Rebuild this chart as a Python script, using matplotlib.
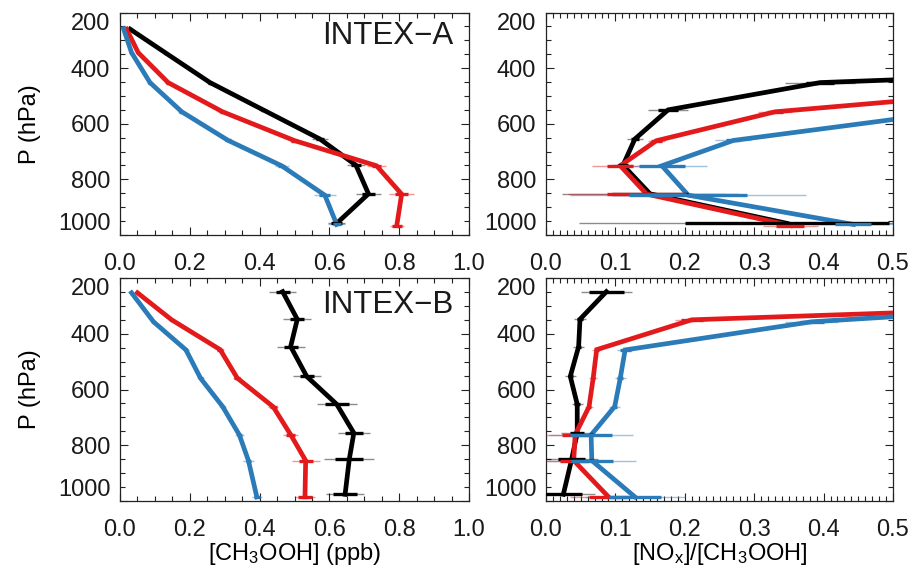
import matplotlib
matplotlib.use("Agg")
import matplotlib.pyplot as plt
from matplotlib.ticker import MultipleLocator, FixedLocator

plt.rcParams['font.family'] = ['Liberation Sans', 'DejaVu Sans']
plt.rcParams['mathtext.fontset'] = 'custom'
plt.rcParams['mathtext.rm'] = 'Liberation Sans'
plt.rcParams['mathtext.it'] = 'Liberation Sans'
plt.rcParams['mathtext.default'] = 'rm'
plt.rcParams['text.color'] = '#1a1a1a'

# ---------------- data ----------------
series_names = ["black", "red", "blue"]
colors = {"black": "#000000", "red": "#e31a1c", "blue": "#2b7bb9"}

# INTEX-A pressure levels (hPa)
pA_black = [260, 344, 452, 550, 655, 749, 852, 958]
pA_red = [260, 344, 452, 557, 661, 751, 853, 966]
pA_blue = [258, 344, 452, 557, 660, 751, 857, 962]

# INTEX-A CH3OOH (ppb)
chA_black = [0.029, 0.129, 0.258, 0.41, 0.573, 0.676, 0.712, 0.621]
chA_red = [0.019, 0.052, 0.138, 0.294, 0.501, 0.735, 0.807, 0.793]
chA_blue = [0.010, 0.033, 0.086, 0.177, 0.310, 0.463, 0.587, 0.621]
chA_err1_black = [0.003, 0.004, 0.005, 0.006, 0.012, 0.015, 0.018, 0.016]
chA_err2_black = [0.005, 0.007, 0.009, 0.012, 0.024, 0.025, 0.035, 0.025]
chA_err1_red = [0.003, 0.004, 0.006, 0.008, 0.010, 0.014, 0.018, 0.014]
chA_err2_red = [0.005, 0.006, 0.010, 0.012, 0.015, 0.027, 0.036, 0.020]
chA_err1_blue = [0.003, 0.004, 0.005, 0.007, 0.008, 0.011, 0.016, 0.012]
chA_err2_blue = [0.004, 0.006, 0.008, 0.010, 0.012, 0.020, 0.031, 0.024]

# INTEX-A NOx/CH3OOH
rA_black = [2.5, 1.57, 0.395, 0.176, 0.128, 0.111, 0.150, 0.347]
rA_red = [3.0, 1.8, 0.82, 0.330, 0.159, 0.107, 0.145, 0.352]
rA_blue = [4.0, 2.5, 1.2, 0.585, 0.270, 0.167, 0.205, 0.443]
rA_err1_black = [0.10, 0.05, 0.020, 0.014, 0.006, 0.007, 0.055, 0.147]
rA_err2_black = [0.20, 0.10, 0.050, 0.029, 0.012, 0.014, 0.127, 0.300]
rA_err1_red = [0.10, 0.05, 0.030, 0.012, 0.008, 0.019, 0.057, 0.020]
rA_err2_red = [0.20, 0.10, 0.060, 0.024, 0.012, 0.041, 0.113, 0.040]
rA_err1_blue = [0.10, 0.05, 0.030, 0.015, 0.010, 0.033, 0.085, 0.026]
rA_err2_blue = [0.20, 0.10, 0.060, 0.030, 0.026, 0.065, 0.170, 0.060]

# INTEX-B pressure levels (hPa)
pB_black = [249, 348, 446, 553, 653, 756, 850, 976]
pB_red = [253, 350, 457, 559, 662, 762, 855, 985]
pB_blue = [253, 357, 458, 560, 661, 763, 855, 985]

# INTEX-B CH3OOH (ppb)
chB_black = [0.466, 0.508, 0.489, 0.535, 0.621, 0.670, 0.657, 0.645]
chB_red = [0.050, 0.148, 0.287, 0.336, 0.439, 0.489, 0.532, 0.530]
chB_blue = [0.033, 0.096, 0.189, 0.231, 0.294, 0.342, 0.368, 0.392]
chB_err1_black = [0.020, 0.020, 0.020, 0.020, 0.035, 0.025, 0.040, 0.035]
chB_err2_black = [0.038, 0.040, 0.040, 0.040, 0.057, 0.045, 0.072, 0.055]
chB_err1_red = [0.004, 0.006, 0.008, 0.008, 0.010, 0.012, 0.020, 0.020]
chB_err2_red = [0.006, 0.008, 0.010, 0.012, 0.015, 0.022, 0.040, 0.028]
chB_err1_blue = [0.003, 0.004, 0.005, 0.006, 0.006, 0.007, 0.008, 0.008]
chB_err2_blue = [0.005, 0.006, 0.008, 0.009, 0.010, 0.012, 0.015, 0.014]

# INTEX-B NOx/CH3OOH
rB_black = [0.087, 0.049, 0.047, 0.035, 0.045, 0.045, 0.037, 0.025]
rB_red = [1.35, 0.21, 0.073, 0.068, 0.062, 0.042, 0.040, 0.090]
rB_blue = [1.06, 0.383, 0.114, 0.107, 0.099, 0.065, 0.066, 0.128]
rB_err1_black = [0.025, 0.004, 0.004, 0.004, 0.004, 0.010, 0.019, 0.027]
rB_err2_black = [0.037, 0.008, 0.008, 0.008, 0.008, 0.023, 0.038, 0.045]
rB_err1_red = [0.10, 0.016, 0.003, 0.003, 0.003, 0.019, 0.020, 0.028]
rB_err2_red = [0.20, 0.024, 0.006, 0.006, 0.006, 0.043, 0.040, 0.056]
rB_err1_blue = [0.10, 0.017, 0.008, 0.004, 0.004, 0.030, 0.030, 0.037]
rB_err2_blue = [0.20, 0.038, 0.012, 0.008, 0.008, 0.061, 0.064, 0.072]

campaign_labels = ["INTEX\u2212A", "INTEX\u2212B"]
xlabel_left = r"[CH$_3$OOH] (ppb)"
xlabel_right = r"[NO$_\mathrm{x}$]/[CH$_3$OOH]"
ylabel = "P (hPa)"
yticks = [200, 400, 600, 800, 1000]
xticks_left = [0.0, 0.2, 0.4, 0.6, 0.8, 1.0]
xticks_right = [0.0, 0.1, 0.2, 0.3, 0.4, 0.5]

# --------------- figure ---------------
fig = plt.figure(figsize=(9.14, 5.71), dpi=100)
W, H = 914.0, 571.0

def make_ax(x0, x1, y0, y1):
    return fig.add_axes([x0 / W, 1 - y1 / H, (x1 - x0) / W, (y1 - y0) / H])

axA_l = make_ax(120, 469, 12.5, 235)
axA_r = make_ax(546, 893, 12.5, 235)
axB_l = make_ax(120, 469, 278, 501)
axB_r = make_ax(546, 893, 278, 501)

FS = 17

def draw(ax, data):
    for name in series_names:
        x, p, e1, e2 = data[name]
        c = colors[name]
        ax.plot(x, p, color=c, lw=3.4, solid_joinstyle='miter', zorder=3)
    for name in series_names:
        x, p, e1, e2 = data[name]
        c = colors[name]
        ax.hlines(p, [a - b for a, b in zip(x, e2)], [a + b for a, b in zip(x, e2)],
                  color=c, lw=1.0, alpha=0.45, zorder=4)
        ax.hlines(p, [a - b for a, b in zip(x, e1)], [a + b for a, b in zip(x, e1)],
                  color=c, lw=2.4, zorder=5)

def style(ax, xmax, xticks, major, minor):
    ax.set_ylim(1000, 200)
    ax.set_xlim(0, xmax)
    ax.xaxis.set_major_locator(FixedLocator(xticks))
    ax.xaxis.set_minor_locator(MultipleLocator(minor))
    ax.yaxis.set_major_locator(FixedLocator(yticks))
    ax.yaxis.set_minor_locator(MultipleLocator(50))
    ax.tick_params(which='both', direction='in', top=True, right=True,
                   width=0.8, colors='#222222', labelcolor='#1a1a1a')
    ax.tick_params(which='major', length=6)
    ax.tick_params(which='minor', length=3.5)
    ax.tick_params(axis='x', which='major', pad=13, labelsize=FS)
    ax.tick_params(axis='y', which='major', pad=7, labelsize=FS)
    ax.set_xticklabels(["%.1f" % v for v in xticks])
    ax.set_yticklabels([str(v) for v in yticks])
    labs = ax.get_yticklabels()
    labs[0].set_verticalalignment('top')
    labs[-1].set_verticalalignment('bottom')
    for s in ax.spines.values():
        s.set_linewidth(0.9)
        s.set_color('#222222')

draw(axA_l, {"black": (chA_black, pA_black, chA_err1_black, chA_err2_black),
             "red": (chA_red, pA_red, chA_err1_red, chA_err2_red),
             "blue": (chA_blue, pA_blue, chA_err1_blue, chA_err2_blue)})
draw(axA_r, {"black": (rA_black, pA_black, rA_err1_black, rA_err2_black),
             "red": (rA_red, pA_red, rA_err1_red, rA_err2_red),
             "blue": (rA_blue, pA_blue, rA_err1_blue, rA_err2_blue)})
draw(axB_l, {"black": (chB_black, pB_black, chB_err1_black, chB_err2_black),
             "red": (chB_red, pB_red, chB_err1_red, chB_err2_red),
             "blue": (chB_blue, pB_blue, chB_err1_blue, chB_err2_blue)})
draw(axB_r, {"black": (rB_black, pB_black, rB_err1_black, rB_err2_black),
             "red": (rB_red, pB_red, rB_err1_red, rB_err2_red),
             "blue": (rB_blue, pB_blue, rB_err1_blue, rB_err2_blue)})

for ax in (axA_l, axB_l):
    style(ax, 1.0, xticks_left, 0.2, 0.05)
    ax.set_ylabel(ylabel, fontsize=FS, labelpad=12)
for ax in (axA_r, axB_r):
    style(ax, 0.5, xticks_right, 0.1, 0.01)

axB_l.set_xlabel(xlabel_left, fontsize=FS, labelpad=0)
axB_r.set_xlabel(xlabel_right, fontsize=FS, labelpad=0)

axA_l.text(0.955, 0.895, campaign_labels[0], transform=axA_l.transAxes,
           ha='right', va='center', fontsize=22.5)
axB_l.text(0.955, 0.88, campaign_labels[1], transform=axB_l.transAxes,
           ha='right', va='center', fontsize=22.5)

fig.savefig("out.png", dpi=100)
